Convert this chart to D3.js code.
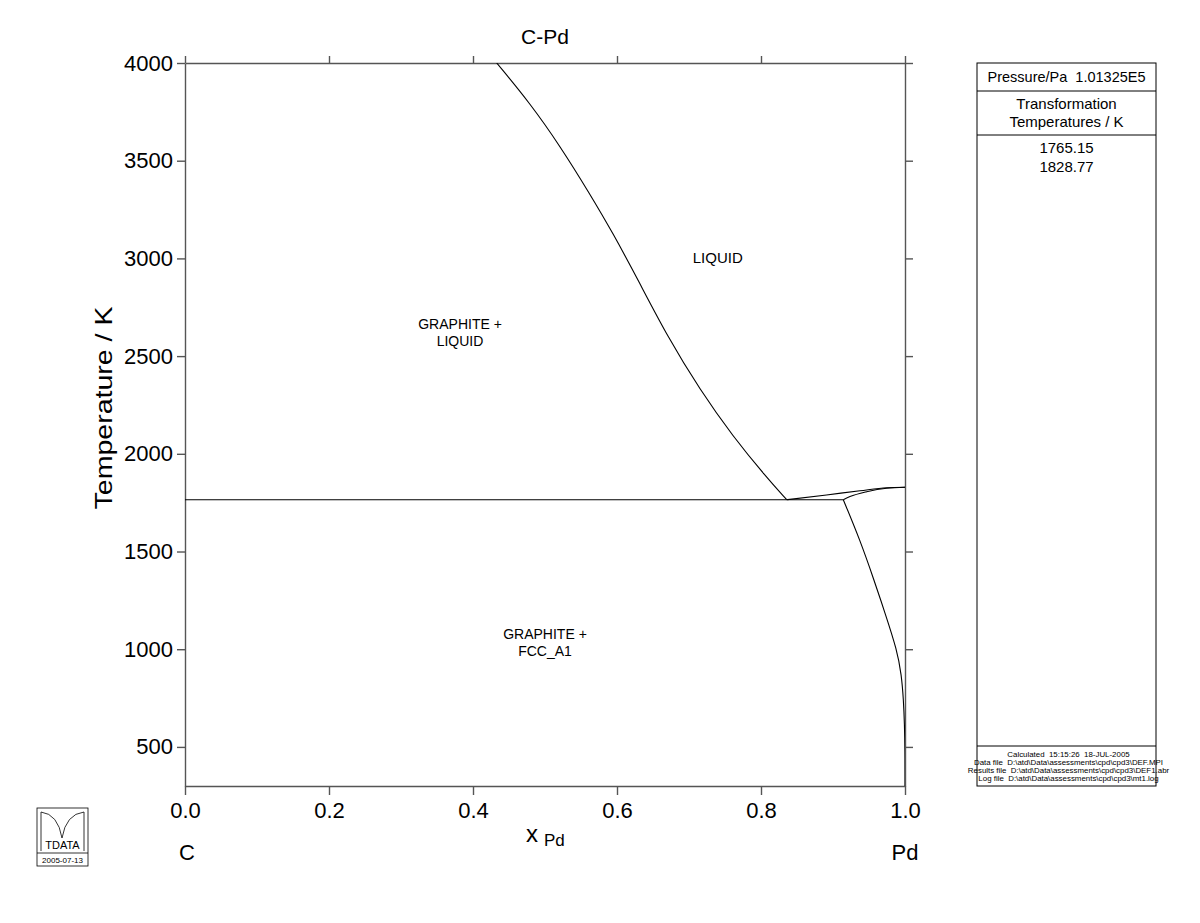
<!DOCTYPE html>
<html><head><meta charset="utf-8">
<script src="https://cdn.jsdelivr.net/npm/d3@7"></script>
<style>body{margin:0;background:#fff;} text{font-family:"Liberation Sans",Arial,sans-serif;white-space:pre;}</style>
</head><body>
<svg id="c" width="1200" height="923"></svg>
<script>
// ---- data ----
const xTicks = [0.0, 0.2, 0.4, 0.6, 0.8, 1.0];
const yTicks = [500, 1000, 1500, 2000, 2500, 3000, 3500, 4000];
const eutecticT = 1765.15;
const pdMeltT = 1828.77;
// liquidus (graphite side): [xPd, T]
const liquidusLeft = [[0.4329,4000],[0.4792,3794],[0.5215,3572],[0.5618,3333],[0.5944,3129],[0.6292,2890],[0.6701,2600],[0.7153,2327],[0.7611,2088],[0.8069,1883],[0.8357,1765.15]];
// liquidus (fcc side)
const liquidusRight = [[0.8357,1765.15],[0.891,1789.5],[0.9375,1811],[0.9746,1826.5],[1.0,1828.77]];
// solidus of FCC_A1
const solidus = [[0.9143,1765.15],[0.9236,1781],[0.9468,1806],[0.9746,1824],[1.0,1828.77]];
// graphite solvus in FCC_A1
const solvus = [[0.9143,1765.15],[0.9375,1559],[0.9569,1355],[0.9722,1186],[0.9889,996],[0.9951,869],[0.9979,741],[0.9993,613],[1.0,485],[1.0,300]];
const eutecticLine = [[0.0,1765.15],[0.9143,1765.15]];
const regionLabels = [
  {lines:["LIQUID"], x:0.74, T:2975, size:15},
  {lines:["GRAPHITE +","LIQUID"], x:0.382, T:2640, size:14},
  {lines:["GRAPHITE +","FCC_A1"], x:0.5, T:1050, size:14}
];
const legendTemps = ["1765.15","1828.77"];
const footer = ["Calculated  15:15:26  18-JUL-2005",
 "Data file  D:\\atd\\Data\\assessments\\cpd\\cpd3\\DEF.MPI",
 "Results file  D:\\atd\\Data\\assessments\\cpd\\cpd3\\DEF1.abr",
 "Log file  D:\\atd\\Data\\assessments\\cpd\\cpd3\\mt1.log"];

// ---- chart ----
const svg = d3.select("#c");
const L=185, R=905, T=63, B=786;
const x = d3.scaleLinear().domain([0,1]).range([L,R]);
const y = d3.scaleLinear().domain([300,4000]).range([B,T]);
const axisColor="#555";

svg.append("defs").append("clipPath").attr("id","clip")
  .append("rect").attr("x",L).attr("y",T).attr("width",R-L).attr("height",B-T);

// axes
const fmt = d3.format(".1f");
const gB = svg.append("g").attr("transform",`translate(0,${B})`)
  .call(d3.axisBottom(x).tickValues(xTicks).tickFormat(fmt).tickSize(9).tickSizeOuter(0));
const gT = svg.append("g").attr("transform",`translate(0,${T})`)
  .call(d3.axisTop(x).tickValues(xTicks).tickFormat("").tickSize(7).tickSizeOuter(0));
const gL = svg.append("g").attr("transform",`translate(${L},0)`)
  .call(d3.axisLeft(y).tickValues(yTicks).tickFormat(d3.format("d")).tickSize(8).tickSizeOuter(0));
const gR = svg.append("g").attr("transform",`translate(${R},0)`)
  .call(d3.axisRight(y).tickValues(yTicks).tickFormat("").tickSize(8).tickSizeOuter(0));
[gB,gT,gL,gR].forEach(g=>{
  g.select(".domain").attr("stroke",axisColor).attr("stroke-width",1.4);
  g.selectAll(".tick line").attr("stroke",axisColor).attr("stroke-width",1.4);
  g.selectAll(".tick text").attr("fill","#000").style("font-size","22px");
});
gB.selectAll(".tick text").attr("dy","0.92em");
gL.selectAll(".tick text").attr("dx","-0.05em");

// curves
const plot = svg.append("g").attr("clip-path","url(#clip)");
const lineB = d3.line().x(d=>x(d[0])).y(d=>y(d[1])).curve(d3.curveBasis);
const lineX = d3.line().x(d=>x(d[0])).y(d=>y(d[1])).curve(d3.curveMonotoneX);
const lineL = d3.line().x(d=>x(d[0])).y(d=>y(d[1]));
function draw(p){ plot.append("path").attr("d",p).attr("fill","none").attr("stroke","#000").attr("stroke-width",1.1); }
draw(lineB(liquidusLeft));
draw(lineX(liquidusRight));
draw(lineX(solidus));
draw(lineB(solvus));
draw(lineL(eutecticLine));

// region labels
regionLabels.forEach(r=>{
  const t = svg.append("text").attr("x",x(r.x)).attr("y",y(r.T)).attr("text-anchor","middle").style("font-size",r.size+"px");
  r.lines.forEach((s,i)=>t.append("tspan").attr("x",x(r.x)).attr("dy",i?"1.2em":"0").text(s));
});

// titles
svg.append("text").attr("x",545).attr("y",44).attr("text-anchor","middle").style("font-size","21px").text("C-Pd");
const xl = svg.append("text").attr("x",526).attr("y",842).style("font-size","24px");
xl.append("tspan").text("x");
xl.append("tspan").attr("dx","6").attr("dy","4").style("font-size","17px").text("Pd");
svg.append("text").attr("x",187).attr("y",860).attr("text-anchor","middle").style("font-size","22px").text("C");
svg.append("text").attr("x",905).attr("y",860).attr("text-anchor","middle").style("font-size","22px").text("Pd");
svg.append("text").attr("transform",`translate(112,408) rotate(-90)`).attr("text-anchor","middle")
  .attr("textLength",203).attr("lengthAdjust","spacingAndGlyphs").style("font-size","24px").text("Temperature / K");

// legend box
const bx0=977, bx1=1156;
const lg = svg.append("g");
lg.append("rect").attr("x",bx0).attr("y",T).attr("width",bx1-bx0).attr("height",B-T).attr("fill","none").attr("stroke","#000").attr("stroke-width",1);
[91,135,746].forEach(yy=>lg.append("line").attr("x1",bx0).attr("x2",bx1).attr("y1",yy).attr("y2",yy).attr("stroke","#000"));
const cx=(bx0+bx1)/2;
lg.append("text").attr("x",cx).attr("y",82).attr("text-anchor","middle").style("font-size","14.5px").text("Pressure/Pa  1.01325E5");
lg.append("text").attr("x",cx).attr("y",109).attr("text-anchor","middle").style("font-size","15px").text("Transformation");
lg.append("text").attr("x",cx).attr("y",127).attr("text-anchor","middle").style("font-size","15px").text("Temperatures / K");
legendTemps.forEach((s,i)=>lg.append("text").attr("x",cx).attr("y",153+i*19).attr("text-anchor","middle").style("font-size","15px").text(s));
footer.forEach((s,i)=>{
  const t = lg.append("text").attr("x",cx+2).attr("y",757+i*8).attr("text-anchor","middle").style("font-size","7.9px").text(s);
  const w = t.node().getComputedTextLength();
  t.style("font-size","6.6px").attr("textLength",w).attr("lengthAdjust","spacingAndGlyphs");
});

// logo
const lo = svg.append("g");
lo.append("rect").attr("x",37).attr("y",808).attr("width",51).attr("height",58).attr("fill","none").attr("stroke","#000").attr("stroke-width",0.8);
lo.append("line").attr("x1",37).attr("x2",88).attr("y1",853).attr("y2",853).attr("stroke","#000").attr("stroke-width",0.8);
lo.append("path").attr("d","M41,851 L41,812 Q58,814 62,838 Q66,814 84,812 L84,851").attr("fill","none").attr("stroke","#000").attr("stroke-width",0.8);
lo.append("text").attr("x",62.5).attr("y",849).attr("text-anchor","middle").style("font-size","11px").text("TDATA");
lo.append("text").attr("x",62.5).attr("y",863).attr("text-anchor","middle").style("font-size","8px").text("2005-07-13");
</script>
</body></html>
